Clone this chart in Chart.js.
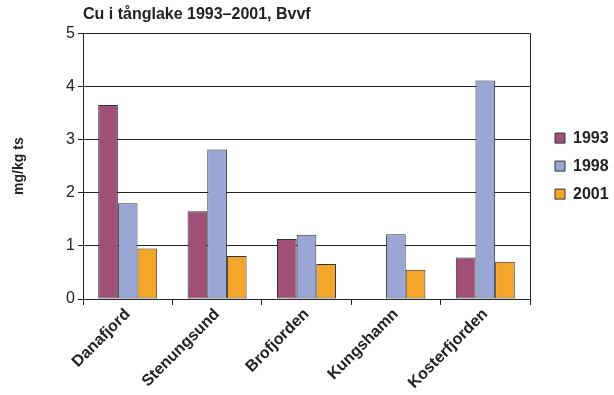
<!DOCTYPE html>
<html>
<head>
<meta charset="utf-8">
<script src="https://cdn.jsdelivr.net/npm/chart.js@4/dist/chart.umd.min.js"></script>
<style>
  html, body { margin: 0; padding: 0; background: #fff; }
  #wrap { width: 614px; height: 395px; position: relative; }
</style>
</head>
<body>
<div id="wrap"><canvas id="c" width="614" height="395"></canvas></div>
<script>
// Cu concentration in eelpout (tånglake), mg/kg ts
const sites = ["Danafjord", "Stenungsund", "Brofjorden", "Kungshamn", "Kosterfjorden"];
const cu1993 = [3.65, 1.65, 1.13, null, 0.78];
const cu1998 = [1.80, 2.81, 1.21, 1.22, 4.11];
const cu2001 = [0.95, 0.81, 0.66, 0.55, 0.70];
const yTicks = [0, 1, 2, 3, 4, 5];

const FONT = "'Liberation Sans', Arial, sans-serif";

// thin frame line along the right edge of the plot area
const rightFrame = {
  id: 'rightFrame',
  afterDatasetsDraw(chart) {
    const { ctx, chartArea } = chart;
    ctx.save();
    ctx.strokeStyle = '#222';
    ctx.lineWidth = 1;
    ctx.beginPath();
    const x = Math.round(chartArea.right) + 0.5;
    ctx.moveTo(x, chartArea.top);
    ctx.lineTo(x, chartArea.bottom);
    ctx.stroke();
    ctx.restore();
  }
};

// give the legend a fixed column width and nudge its items right
const legendWidth = {
  id: 'legendWidth',
  beforeLayout(chart) {
    const lg = chart.legend;
    if (lg && !lg._fixedFit) {
      const fit = lg.fit;
      lg.fit = function () { fit.call(this); this.width = 84; };
      lg._fixedFit = true;
    }
  },
  afterLayout(chart) {
    const lg = chart.legend;
    lg.left += 13;
    lg.right += 13;
  }
};

const barStyle = { borderColor: '#333', borderWidth: 1, borderSkipped: false,
  categoryPercentage: 0.66, barPercentage: 1.0 };

new Chart(document.getElementById('c'), {
  type: 'bar',
  data: {
    labels: sites,
    datasets: [
      { label: '1993', data: cu1993, backgroundColor: '#A05077', ...barStyle },
      { label: '1998', data: cu1998, backgroundColor: '#9AA6D4', ...barStyle },
      { label: '2001', data: cu2001, backgroundColor: '#F4A62A', ...barStyle }
    ]
  },
  options: {
    responsive: false,
    animation: false,
    layout: { padding: { left: 8, right: 0, top: 5, bottom: 0 } },
    plugins: {
      title: {
        display: true,
        text: 'Cu i tånglake 1993–2001, Bvvf',
        align: 'start',
        fullSize: false,
        color: '#222',
        font: { family: FONT, size: 16, weight: 'bold' },
        padding: { top: 0, bottom: 9 }
      },
      legend: {
        position: 'right',
        align: 'center',
        fullSize: false,
        labels: {
          color: '#222',
          font: { family: FONT, size: 16, weight: 'bold' },
          boxWidth: 10, boxHeight: 10,
          padding: 12
        }
      },
      tooltip: { enabled: false }
    },
    scales: {
      x: {
        offset: true,
        grid: { offset: true, drawOnChartArea: false, color: '#222', tickLength: 6 },
        border: { color: '#222', width: 1 },
        ticks: {
          color: '#222',
          maxRotation: 45, minRotation: 45,
          font: { family: FONT, size: 16, weight: 'bold' },
          padding: 0
        },
        afterFit(s) { s.height = 96; }
      },
      y: {
        min: 0, max: 5,
        afterBuildTicks(s) { s.ticks = yTicks.map(v => ({ value: v })); },
        grid: { color: '#222', tickLength: 5 },
        border: { color: '#222', width: 1 },
        ticks: { color: '#222', font: { family: FONT, size: 16 }, padding: 3 },
        title: {
          display: true, text: 'mg/kg ts', color: '#222',
          font: { family: FONT, size: 14, weight: 'bold' },
          padding: { top: 3, bottom: 22 }
        },
        afterFit(s) { s.width = 75; }
      }
    }
  },
  plugins: [rightFrame, legendWidth]
});
</script>
</body>
</html>
